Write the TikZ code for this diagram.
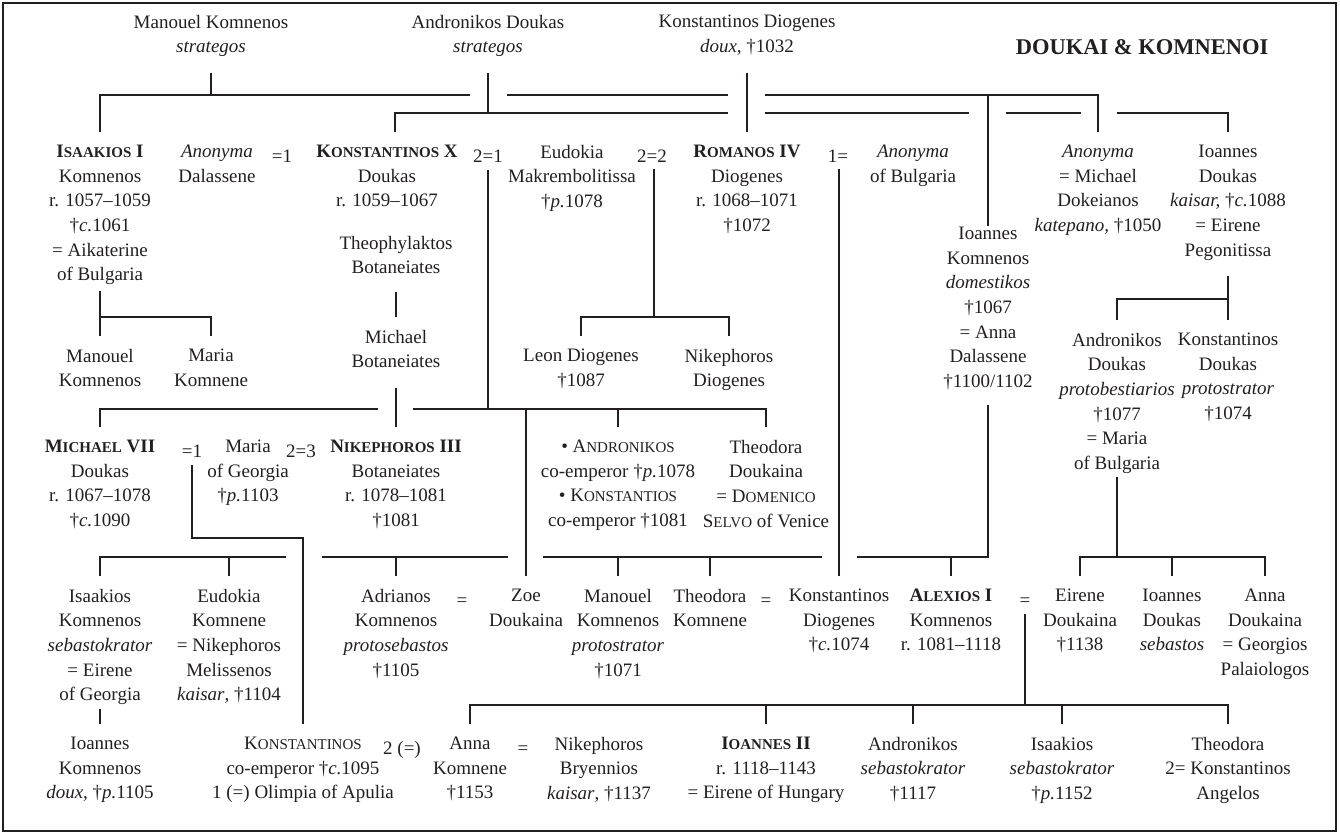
\documentclass[tikz,border=0pt]{standalone}
\usepackage{fontspec}
\setmainfont{Liberation Serif}
\usepackage{tikz}
\definecolor{ink}{HTML}{231F20}
\newcommand\fs{\fontsize{19}{24.7}\selectfont}
\newcommand\ssc[1]{{\fontsize{15}{24.7}\selectfont #1}}
\newcommand\dg{†}
\begin{document}
\begin{tikzpicture}[x=1pt,y=-1pt,
 pers/.style={anchor=north,align=center,inner sep=0pt,font=\fs,text=ink,execute at begin node=\strut},
 ln/.style={line width=1.8pt,draw=ink}]
\useasboundingbox (0,0) rectangle (1340,834);
\draw[line width=2pt,draw=ink] (3,3) rectangle (1336,831);
\coordinate (h95) at (0,95);
\coordinate (h113) at (0,113);
\coordinate (h317) at (0,317);
\coordinate (h409) at (0,409);
\coordinate (h557) at (0,557);
\coordinate (h705) at (0,705);

% ---------- generation 0
\node[pers] (manK) at (211,14.7) {Manouel Komnenos\\\textit{strategos}};
\node[pers] (andD) at (488,14.7) {Andronikos Doukas\\\textit{strategos}};
\node[pers] (konDio) at (747,14.7) {Konstantinos Diogenes\\\textit{doux,} \dg1032};
\node[anchor=base,inner sep=0pt,text=ink,font=\fontsize{22.5}{24}\selectfont\bfseries] (title) at (1142,55) {DOUKAI \& KOMNENOI};

% ---------- generation 1
\node[pers] (isaakios) at (100,144.7) {\textbf{I\ssc{SAAKIOS} I}\\Komnenos\\r. 1057–1059\\\dg\textit{c.}1061\\= Aikaterine\\of Bulgaria};
\node[pers] (anonD) at (217,144.7) {\textit{Anonyma}\\Dalassene};
\node[pers] (eqA) at (282,144.7) {=1};
\node[pers] (konX) at (387,144.7) {\textbf{K\ssc{ONSTANTINOS} X}\\Doukas\\r. 1059–1067};
\node[pers] (eqB) at (488,144.7) {2=1};
\node[pers] (eudokia) at (572,144.7) {Eudokia\\Makrembolitissa\\\dg\textit{p.}1078};
\node[pers] (eqC) at (652,144.7) {2=2};
\node[pers] (romanos) at (747,144.7) {\textbf{R\ssc{OMANOS} IV}\\Diogenes\\r. 1068–1071\\\dg1072};
\node[pers] (eqD) at (838,144.7) {1=};
\node[pers] (anonB) at (913,144.7) {\textit{Anonyma}\\of Bulgaria};
\node[pers] (anonM) at (1098,144.7) {\textit{Anonyma}\\= Michael\\Dokeianos\\\textit{katepano,} \dg1050};
\node[pers] (ioD) at (1228,144.7) {Ioannes\\Doukas\\\textit{kaisar,} \dg\textit{c.}1088\\= Eirene\\Pegonitissa};
\node[pers] (theo) at (396,235.7) {Theophylaktos\\Botaneiates};
\node[pers] (ioK) at (988,226.7) {Ioannes\\Komnenos\\\textit{domestikos}\\\dg1067\\= Anna\\Dalassene\\\dg1100/1102};

% ---------- generation 2
\node[pers] (michB) at (396,329.7) {Michael\\Botaneiates};
\node[pers] (manK2) at (100,348.7) {Manouel\\Komnenos};
\node[pers] (mariaK) at (211,348.7) {Maria\\Komnene};
\node[pers] (leon) at (581,348.7) {Leon Diogenes\\\dg1087};
\node[pers] (nikD) at (729,348.7) {Nikephoros\\Diogenes};
\node[pers] (andDk) at (1117,332.7) {Andronikos\\Doukas\\\textit{protobestiarios}\\\dg1077\\= Maria\\of Bulgaria};
\node[pers] (konDk) at (1228,332.7) {Konstantinos\\Doukas\\\textit{protostrator}\\\dg1074};

% ---------- generation 3
\node[pers] (mich7) at (100,439.7) {\textbf{M\ssc{ICHAEL} VII}\\Doukas\\r. 1067–1078\\\dg\textit{c.}1090};
\node[pers] (eqE) at (192,439.7) {=1};
\node[pers] (mariaG) at (248,439.7) {Maria\\of Georgia\\\dg\textit{p.}1103};
\node[pers] (eqF) at (301,439.7) {2=3};
\node[pers] (nik3) at (396,439.7) {\textbf{N\ssc{IKEPHOROS} III}\\Botaneiates\\r. 1078–1081\\\dg1081};
\node[pers] (andKon) at (618,439.7) {• A\ssc{NDRONIKOS}\\co-emperor \dg\textit{p.}1078\\• K\ssc{ONSTANTIOS}\\co-emperor \dg1081};
\node[pers] (theoD) at (766,439.7) {Theodora\\Doukaina\\= D\ssc{OMENICO}\\S\ssc{ELVO} of Venice};

% ---------- generation 4
\node[pers] (isaK) at (100,588.7) {Isaakios\\Komnenos\\\textit{sebastokrator}\\= Eirene\\of Georgia};
\node[pers] (eudK) at (229,588.7) {Eudokia\\Komnene\\= Nikephoros\\Melissenos\\\textit{kaisar}, \dg1104};
\node[pers] (adrianos) at (396,588.7) {Adrianos\\Komnenos\\\textit{protosebastos}\\\dg1105};
\node[pers] (eqG) at (462,588.7) {=};
\node[pers] (zoe) at (526,588.7) {Zoe\\Doukaina};
\node[pers] (manK3) at (618,588.7) {Manouel\\Komnenos\\\textit{protostrator}\\\dg1071};
\node[pers] (theoK) at (710,588.7) {Theodora\\Komnene};
\node[pers] (eqH) at (766,588.7) {=};
\node[pers] (konDio2) at (839,588.7) {Konstantinos\\Diogenes\\\dg\textit{c.}1074};
\node[pers] (alexios) at (951,588.7) {\textbf{A\ssc{LEXIOS} I}\\Komnenos\\r. 1081–1118};
\node[pers] (eqI) at (1025,588.7) {=};
\node[pers] (eireneD) at (1080,588.7) {Eirene\\Doukaina\\\dg1138};
\node[pers] (ioDs) at (1172,588.7) {Ioannes\\Doukas\\\textit{sebastos}};
\node[pers] (annaD) at (1265,588.7) {Anna\\Doukaina\\= Georgios\\Palaiologos};

% ---------- generation 5
\node[pers] (ioK2) at (100,736.7) {Ioannes\\Komnenos\\\textit{doux}, \dg\textit{p.}1105};
\node[pers] (konCo) at (303,736.7) {K\ssc{ONSTANTINOS}\\co-emperor \dg\textit{c.}1095\\1 (=) Olimpia of Apulia};
\node[pers] (eqJ) at (402,736.7) {2 (=)};
\node[pers] (annaK) at (470,736.7) {Anna\\Komnene\\\dg1153};
\node[pers] (eqK) at (523,736.7) {=};
\node[pers] (nikB) at (599,736.7) {Nikephoros\\Bryennios\\\textit{kaisar}, \dg1137};
\node[pers] (ioII) at (766,736.7) {\textbf{I\ssc{OANNES} II}\\r. 1118–1143\\= Eirene of Hungary};
\node[pers] (andK) at (913,736.7) {Andronikos\\\textit{sebastokrator}\\\dg1117};
\node[pers] (isaKs) at (1062,736.7) {Isaakios\\\textit{sebastokrator}\\\dg\textit{p.}1152};
\node[pers] (theoKA) at (1228,736.7) {Theodora\\2= Konstantinos\\Angelos};

% ---------- connectors
% Manouel Komnenos
\draw[ln] ([yshift=-13pt]manK.south) -- (manK.south |- h95);
\draw[ln] ([yshift=13pt]isaakios.north) |- (470,95);
\draw[ln] (507,95) -- (728,95);
\draw[ln] (765,95) -| ([yshift=13pt]anonM.north);
\draw[ln] (ioK.north |- h95) -- ([yshift=1pt]ioK.north);
% Andronikos Doukas
\draw[ln] ([yshift=-13pt]andD.south) -- (andD.south |- h113);
\draw[ln] (395,131.7) |- (728,113);
\draw[ln] (765,113) -- (969,113);
\draw[ln] (1006,113) -- (1081,113);
\draw[ln] (1117,113) -| ([yshift=13pt]ioD.north);
% Konstantinos Diogenes
\draw[ln] ([yshift=-13pt]konDio.south) -- ([yshift=13pt]romanos.north);
% Isaakios I
\draw[ln] ([yshift=-3pt]isaakios.south) -- ([yshift=13pt]manK2.north);
\draw[ln] (isaakios.south |- h317) -| ([yshift=13pt]mariaK.north);
% Theophylaktos -> Michael -> Nikephoros III
\draw[ln] ([yshift=-11pt]theo.south) -- ([yshift=13pt]michB.north);
\draw[ln] ([yshift=-13pt]michB.south) -- ([yshift=13pt]nik3.north);
% Konstantinos X =1 Eudokia
\draw[ln] (eqB.south) -- (eqB.south |- h409);
\draw[ln] ([yshift=13pt]mich7.north) |- (378,409);
\draw[ln] (413,409) -| ([yshift=13pt]theoD.north);
\draw[ln] (andKon.north |- h409) -- ([yshift=13pt]andKon.north);
\draw[ln] (zoe.north |- h409) -- ([yshift=13pt]zoe.north);
% Eudokia =2 Romanos
\draw[ln] (654,169.4) -- (654,317);
\draw[ln] ([yshift=13pt]leon.north) |- (nikD.north |- h317) -- ([yshift=13pt]nikD.north);
% Romanos =1 Anonyma of Bulgaria
\draw[ln] (839,169.4) -- ([yshift=13pt]konDio2.north);
% Ioannes Komnenos = Anna Dalassene
\draw[ln] ([yshift=-10pt]ioK.south) |- (857,557);
\draw[ln] (822,557) -- (543,557);
\draw[ln] (508,557) -- (322,557);
\draw[ln] (286,557) -| ([yshift=13pt]isaK.north);
\foreach \n in {eudK,adrianos,manK3,theoK,alexios}
  \draw[ln] (\n.north |- h557) -- ([yshift=13pt]\n.north);
% Ioannes Doukas kaisar
\draw[ln] ([yshift=-12pt]ioD.south) -- ([yshift=13pt]konDk.north);
\draw[ln] ([yshift=13pt]andDk.north) |- (1228,299);
% Andronikos Doukas protobestiarios
\draw[ln] (andDk.south) -- (andDk.south |- h557);
\draw[ln] ([yshift=13pt]eireneD.north) |- (annaD.north |- h557) -- ([yshift=13pt]annaD.north);
\draw[ln] (ioDs.north |- h557) -- ([yshift=13pt]ioDs.north);
% Michael VII =1 Maria
\draw[ln] (eqE.south) |- (konCo.north |- 0,538) -- ([yshift=13pt]konCo.north);
% Isaakios Komnenos sebastokrator
\draw[ln] (isaK.south) -- ([yshift=13pt]ioK2.north);
% Alexios I = Eirene
\draw[ln] (eqI.south) -- (eqI.south |- h705);
\draw[ln] ([yshift=13pt]annaK.north) |- (theoKA.north |- h705) -- ([yshift=13pt]theoKA.north);
\foreach \n in {ioII,andK,isaKs}
  \draw[ln] (\n.north |- h705) -- ([yshift=13pt]\n.north);
\end{tikzpicture}
\end{document}
